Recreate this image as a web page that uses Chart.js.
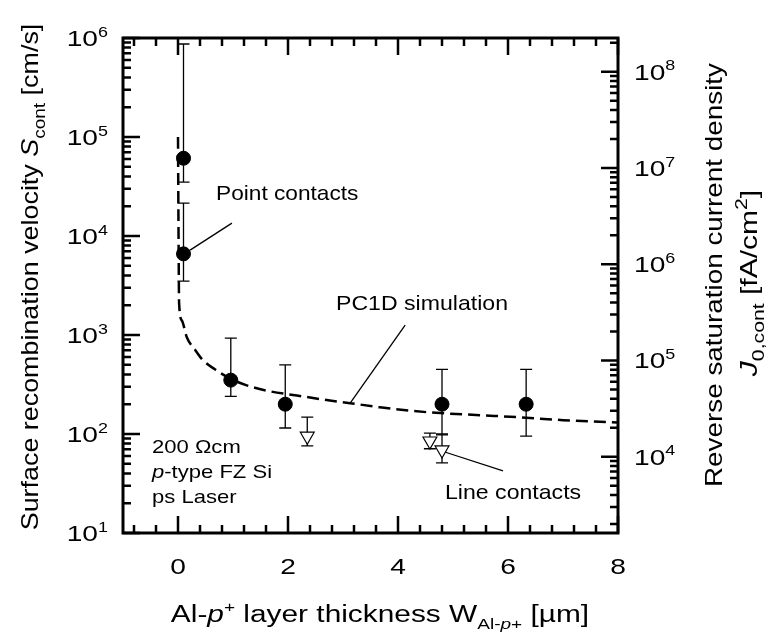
<!DOCTYPE html>
<html>
<head>
<meta charset="utf-8">
<script src="https://cdn.jsdelivr.net/npm/chart.js@4/dist/chart.umd.min.js"></script>
<style>
  body { margin: 0; background: #fff; }
  #wrap { width: 768px; height: 636px; position: relative; }
</style>
</head>
<body>
<div id="wrap"><canvas id="chart"></canvas></div>
<script>
const FONT = '"Liberation Sans", Arial, sans-serif';

// axis ranges
const xMin = -1, xMax = 8;
const sMin = 10, sMax = 1e6;
const jMin = 1611, jMax = 2.24e8;   // right axis J0,cont
const xMajorTicks = [0, 2, 4, 6, 8];
const sDecades = [1, 2, 3, 4, 5, 6];
const jDecades = [4, 5, 6, 7, 8];

// point contacts (filled circles)
const pcX = [0.1, 0.1, 0.96, 1.95, 4.8, 6.33];
const pcS = [6.1e4, 6.6e3, 350, 200, 200, 200];
const pcHi = [8.7e5, 2.15e4, 930, 500, 450, 450];
const pcLo = [3.5e4, 3.5e3, 240, 115, 100, 95];

// line contacts (open triangles)
const lcX = [2.35, 4.58, 4.8];
const lcS = [95, 85, 69];
const lcHi = [148, 102, 98];
const lcLo = [76, 71, 51];

// PC1D simulation (dashed)
const simX = [0, 0.01, 0.02, 0.07, 0.16, 0.31, 0.45, 0.67, 0.96, 1.25, 1.67, 2.16, 2.76, 3.13, 3.67, 4.53, 5.49, 6.16, 7.0, 8.0];
const simS = [1e5, 1e4, 2100, 1400, 950, 710, 560, 450, 360, 310, 270, 245, 218, 205, 186, 166, 155, 148, 138, 131];

// leader lines in data coords [x1, s1, x2, s2]
const leaders = [
  [0.22, 7.2e3, 0.98, 1.35e4],
  [3.13, 205, 4.13, 1260],
  [4.85, 65.8, 5.91, 42.3]
];

function toXY(xs, ys) { return xs.map((x, i) => ({ x: x, y: ys[i] })); }

function segFont(s, size) {
  let sz = (s.sup || s.sub) ? Math.round(size * (s.k || 0.64)) : size;
  return (s.i ? 'italic ' : '') + sz + 'px ' + FONT;
}
// draw text made of segments (italic / super / sub), stretched along the text by sx
function drawRich(ctx, segs, x, y, size, align, angle, sx) {
  ctx.save();
  ctx.translate(x, y);
  ctx.rotate(angle || 0);
  ctx.scale(sx || 1, 1);
  ctx.fillStyle = '#000';
  ctx.textBaseline = 'alphabetic';
  ctx.textAlign = 'left';
  let w = 0;
  segs.forEach(s => { ctx.font = segFont(s, size); w += ctx.measureText(s.t).width; });
  let cx = align === 'center' ? -w / 2 : (align === 'right' ? -w : 0);
  segs.forEach(s => {
    ctx.font = segFont(s, size);
    let dy = s.sup ? -size * 0.42 : (s.sub ? size * 0.28 : 0);
    ctx.fillText(s.t, cx, dy);
    cx += ctx.measureText(s.t).width;
  });
  ctx.restore();
}

const errPlugin = {
  id: 'errbars',
  beforeDatasetsDraw(chart) {
    const ctx = chart.ctx, xs = chart.scales.x, ys = chart.scales.y;
    ctx.save();
    ctx.strokeStyle = '#000';
    ctx.lineWidth = 1.3;
    const draw = (X, H, L) => {
      X.forEach((x, i) => {
        const px = xs.getPixelForValue(x);
        const ph = ys.getPixelForValue(H[i]), pl = ys.getPixelForValue(L[i]);
        ctx.beginPath();
        ctx.moveTo(px, ph); ctx.lineTo(px, pl);
        ctx.moveTo(px - 6, ph); ctx.lineTo(px + 6, ph);
        ctx.moveTo(px - 6, pl); ctx.lineTo(px + 6, pl);
        ctx.stroke();
      });
    };
    draw(pcX, pcHi, pcLo);
    draw(lcX, lcHi, lcLo);
    // leader lines
    leaders.forEach(l => {
      ctx.beginPath();
      ctx.moveTo(xs.getPixelForValue(l[0]), ys.getPixelForValue(l[1]));
      ctx.lineTo(xs.getPixelForValue(l[2]), ys.getPixelForValue(l[3]));
      ctx.stroke();
    });
    ctx.restore();
  },
  afterDraw(chart) {
    const ctx = chart.ctx, a = chart.chartArea;
    const xs = chart.scales.x, ys = chart.scales.y, js = chart.scales.y2;
    ctx.save();
    ctx.strokeStyle = '#000';
    ctx.lineCap = 'butt';
    // inward ticks on all four sides
    const MAJ = 17, MIN = 8;
    ctx.lineWidth = 2.5;
    ctx.beginPath();
    for (let v = -0.8; v <= xMax + 0.01; v += 0.4) {
      const px = xs.getPixelForValue(v);
      const major = xMajorTicks.some(t => Math.abs(t - v) < 0.01);
      const len = major ? MAJ : MIN;
      ctx.moveTo(px, a.bottom); ctx.lineTo(px, a.bottom - len);
      ctx.moveTo(px, a.top); ctx.lineTo(px, a.top + len);
    }
    for (let d = 1; d <= 6; d++) {
      for (let m = 1; m <= 9; m++) {
        const v = m * Math.pow(10, d);
        if (v > sMax * 1.001) break;
        const py = ys.getPixelForValue(v);
        ctx.moveTo(a.left, py); ctx.lineTo(a.left + (m === 1 ? MAJ : MIN), py);
      }
    }
    ctx.moveTo(a.left, ys.getPixelForValue(10)); ctx.lineTo(a.left + MAJ, ys.getPixelForValue(10));
    for (let d = 3; d <= 8; d++) {
      for (let m = 1; m <= 9; m++) {
        const v = m * Math.pow(10, d);
        if (v < jMin || v > jMax) continue;
        const py = js.getPixelForValue(v);
        ctx.moveTo(a.right, py); ctx.lineTo(a.right - (m === 1 ? MAJ : MIN), py);
      }
    }
    ctx.stroke();
    // frame
    ctx.lineWidth = 3;
    ctx.strokeRect(a.left, a.top, a.right - a.left, a.bottom - a.top);
    ctx.restore();

    // tick labels
    sDecades.forEach(d => {
      const py = ys.getPixelForValue(Math.pow(10, d));
      drawRich(ctx, [{ t: '10' }, { t: String(d), sup: true }], 108, py + 8, 22, 'right', 0, 1.28);
    });
    jDecades.forEach(d => {
      const py = js.getPixelForValue(Math.pow(10, d));
      drawRich(ctx, [{ t: '10' }, { t: String(d), sup: true }], 634, py + 8, 22, 'left', 0, 1.28);
    });
    xMajorTicks.forEach(t => {
      drawRich(ctx, [{ t: String(t) }], xs.getPixelForValue(t), 574, 22, 'center', 0, 1.28);
    });

    // axis titles
    drawRich(ctx, [{ t: 'Al-' }, { t: 'p', i: true }, { t: '+', sup: true }, { t: ' layer thickness W' },
      { t: 'Al-', sub: true }, { t: 'p', i: true, sub: true }, { t: '+', sub: true }, { t: ' [\u00b5m]' }],
      380, 622, 23.5, 'center', 0, 1.27);
    drawRich(ctx, [{ t: 'Surface recombination velocity ' }, { t: 'S', i: true }, { t: 'cont', sub: true, k: 0.7 }, { t: ' [cm/s]' }],
      38, 277, 24, 'center', -Math.PI / 2, 1.12);
    drawRich(ctx, [{ t: 'Reverse saturation current density' }], 722, 275, 24, 'center', -Math.PI / 2, 1.16);
    drawRich(ctx, [{ t: 'J', i: true }, { t: '0,cont', sub: true, k: 0.7 }, { t: ' [fA/cm' }, { t: '2', sup: true, k: 0.7 }, { t: ']' }],
      757, 283, 24, 'center', -Math.PI / 2, 1.25);

    // annotations
    drawRich(ctx, [{ t: 'Point contacts' }], 216, 200, 21, 'left', 0, 1.08);
    drawRich(ctx, [{ t: 'PC1D simulation' }], 336, 310, 21, 'left', 0, 1.1);
    drawRich(ctx, [{ t: 'Line contacts' }], 445, 499, 21, 'left', 0, 1.1);
    drawRich(ctx, [{ t: '200 \u03a9cm' }], 152, 453, 19, 'left', 0, 1.16);
    drawRich(ctx, [{ t: 'p', i: true }, { t: '-type FZ Si' }], 152, 478, 19, 'left', 0, 1.16);
    drawRich(ctx, [{ t: 'ps Laser' }], 152, 503, 19, 'left', 0, 1.16);
  }
};

new Chart(document.getElementById('chart'), {
  type: 'line',
  data: {
    datasets: [
      {
        label: 'PC1D simulation',
        data: toXY(simX, simS),
        borderColor: '#000',
        borderWidth: 2.5,
        borderDash: [12, 6],
        pointRadius: 0,
        fill: false,
        cubicInterpolationMode: 'monotone'
      },
      {
        label: 'Point contacts',
        data: toXY(pcX, pcS),
        showLine: false,
        pointStyle: 'circle',
        pointRadius: 7,
        pointBackgroundColor: '#000',
        pointBorderColor: '#000',
        pointBorderWidth: 1
      },
      {
        label: 'Line contacts',
        data: toXY(lcX, lcS),
        showLine: false,
        pointStyle: 'triangle',
        pointRotation: 180,
        pointRadius: 8,
        pointBackgroundColor: '#fff',
        pointBorderColor: '#000',
        pointBorderWidth: 1.2
      }
    ]
  },
  options: {
    responsive: true,
    maintainAspectRatio: false,
    animation: false,
    layout: { padding: { left: 123, top: 38, right: 150, bottom: 103 } },
    plugins: { legend: { display: false }, tooltip: { enabled: false } },
    scales: {
      x: { type: 'linear', min: xMin, max: xMax, display: false },
      y: { type: 'logarithmic', min: sMin, max: sMax, display: false },
      y2: { type: 'logarithmic', min: jMin, max: jMax, display: false, position: 'right' }
    }
  },
  plugins: [errPlugin]
});
</script>
</body>
</html>
